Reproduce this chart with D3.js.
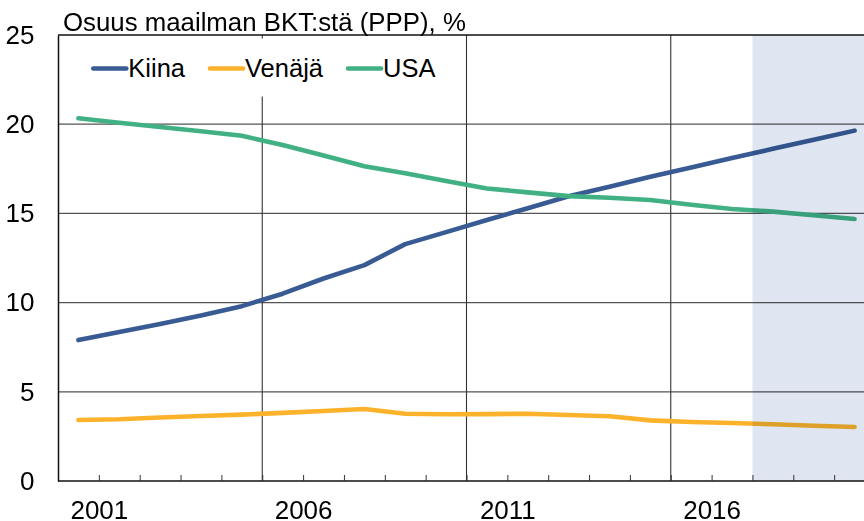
<!DOCTYPE html>
<html>
<head>
<meta charset="utf-8">
<script src="https://cdn.jsdelivr.net/npm/d3@7"></script>
<style>
  body { margin: 0; background: #fff; }
  svg { display: block; font-family: "Liberation Sans", Arial, sans-serif; }
</style>
</head>
<body>
<div id="chart"></div>
<script>
// Osuus maailman BKT:stä (PPP), %
const years = [2000, 2001, 2002, 2003, 2004, 2005, 2006, 2007, 2008, 2009,
  2010, 2011, 2012, 2013, 2014, 2015, 2016, 2017, 2018, 2019]
const kiina = [7.9, 8.35, 8.8, 9.28, 9.8, 10.5, 11.35, 12.1, 13.28, 13.95,
  14.63, 15.29, 15.96, 16.5, 17.05, 17.57, 18.1, 18.62, 19.13, 19.64]
const venaja = [3.42, 3.46, 3.56, 3.64, 3.72, 3.82, 3.92, 4.04, 3.77, 3.74,
  3.75, 3.77, 3.7, 3.63, 3.4, 3.31, 3.25, 3.18, 3.1, 3.03]
const usa = [20.33, 20.08, 19.84, 19.6, 19.35, 18.83, 18.25, 17.64, 17.25, 16.82,
  16.4, 16.18, 15.97, 15.88, 15.75, 15.48, 15.25, 15.1, 14.9, 14.69]
const yTicks = [0, 5, 10, 15, 20, 25]
const xLabels = [2001, 2006, 2011, 2016]
const xGridYears = [2005, 2010, 2015]
const forecastStart = 2017
const title = "Osuus maailman BKT:stä (PPP), %"

const series = [
  {name: "Kiina", values: kiina, color: "#385b93"},
  {name: "Venäjä", values: venaja, color: "#fdb22b"},
  {name: "USA", values: usa, color: "#41b183"}
]

const W = 864, H = 521
const margin = {top: 35, left: 58, bottom: 40}
const yearWidth = 40.85
const fontFamily = "\"Liberation Sans\", Arial, sans-serif"

const svg = d3.select("#chart")
  .append("svg")
  .attr("width", W)
  .attr("height", H)

const x = d3.scaleLinear()
  .domain([years[0], years[years.length - 1] + 1])
  .range([margin.left, margin.left + years.length * yearWidth])

const y = d3.scaleLinear()
  .domain([0, 25])
  .range([H - margin.bottom, margin.top])

// horizontal gridlines
svg.append("g")
  .selectAll("line")
  .data(yTicks.filter(d => d > 0 && d < 25))
  .join("line")
  .attr("x1", margin.left)
  .attr("x2", W)
  .attr("y1", d => y(d))
  .attr("y2", d => y(d))
  .attr("stroke", "#555")
  .attr("stroke-width", 1.3)

// vertical lines
svg.append("g")
  .selectAll("line")
  .data(xGridYears)
  .join("line")
  .attr("x1", d => x(d))
  .attr("x2", d => x(d))
  .attr("y1", y(25))
  .attr("y2", y(0))
  .attr("stroke", "#333")
  .attr("stroke-width", 1.1)

// series lines
const line = d3.line()
  .x((d, i) => x(years[i] + 0.5))
  .y(d => y(d))

svg.append("g")
  .selectAll("path")
  .data(series)
  .join("path")
  .attr("fill", "none")
  .attr("stroke", d => d.color)
  .attr("stroke-width", 4.6)
  .attr("stroke-linecap", "round")
  .attr("stroke-linejoin", "round")
  .attr("d", d => line(d.values))

// forecast shading
svg.append("rect")
  .attr("x", x(forecastStart))
  .attr("y", y(25))
  .attr("width", W - x(forecastStart))
  .attr("height", y(0) - y(25))
  .attr("fill", "#dfe6f2")
  .style("mix-blend-mode", "multiply")

// legend box
const legend = svg.append("g")
legend.append("rect")
  .attr("x", 61)
  .attr("y", 38.5)
  .attr("width", 398)
  .attr("height", 58)
  .attr("fill", "#fff")

let lx = 93.3
series.forEach(s => {
  legend.append("line")
    .attr("x1", lx)
    .attr("x2", lx + 33)
    .attr("y1", 68.5)
    .attr("y2", 68.5)
    .attr("stroke", s.color)
    .attr("stroke-width", 4.6)
    .attr("stroke-linecap", "round")
  const t = legend.append("text")
    .attr("x", lx + 35)
    .attr("y", 76.5)
    .style("font-size", "25.5px")
    .attr("fill", "#000")
    .text(s.name)
  lx += 35 + t.node().getComputedTextLength() + 25
})

// top border
svg.append("line")
  .attr("x1", margin.left)
  .attr("x2", W)
  .attr("y1", y(25))
  .attr("y2", y(25))
  .attr("stroke", "#111")
  .attr("stroke-width", 1.5)

// x axis
const xAxis = svg.append("g")
  .attr("transform", `translate(0, ${y(0)})`)
  .call(d3.axisBottom(x)
    .tickValues(d3.range(years[0] + 1, years[years.length - 1] + 2))
    .tickSizeInner(-6)
    .tickSizeOuter(0)
    .tickPadding(20)
    .tickFormat(d => xLabels.includes(d) ? d : ""))
xAxis.select(".domain").attr("stroke", "#111").attr("stroke-width", 1.5)
  .attr("d", `M${margin.left},0H${W}`)
xAxis.selectAll(".tick line").attr("stroke", "#333")
xAxis.selectAll("text").style("font-size", "26px").attr("fill", "#000")
  .style("font-family", fontFamily)

// y axis
const yAxis = svg.append("g")
  .attr("transform", `translate(${margin.left}, 0)`)
  .call(d3.axisLeft(y)
    .tickValues(yTicks)
    .tickSize(0)
    .tickPadding(23.5))
yAxis.select(".domain").attr("stroke", "#111").attr("stroke-width", 1.5)
yAxis.selectAll("text").style("font-size", "26px").attr("fill", "#000")
  .style("font-family", fontFamily)

// title
svg.append("text")
  .attr("x", 63)
  .attr("y", 31)
  .style("font-size", "25.8px")
  .attr("fill", "#000")
  .text(title)
</script>
</body>
</html>
